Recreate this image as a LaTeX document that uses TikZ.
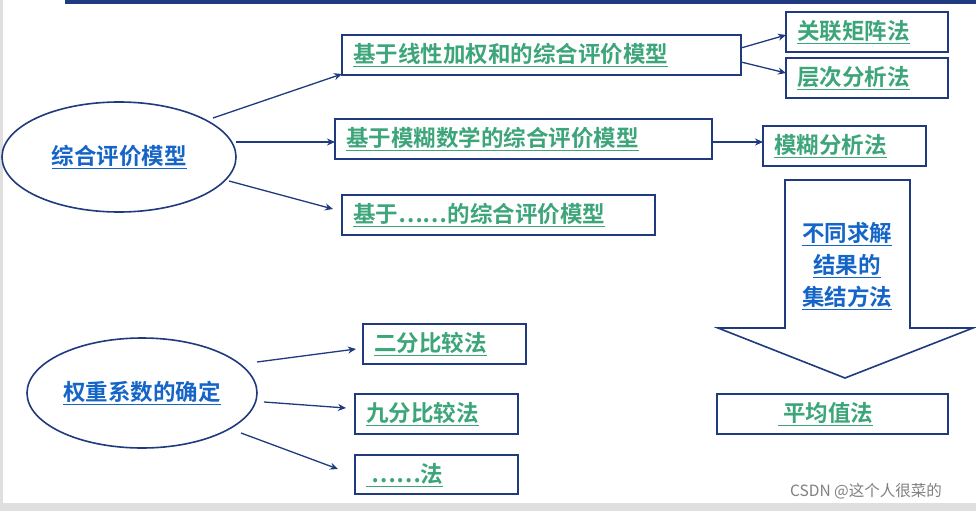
\documentclass[tikz,border=0pt]{standalone}
\usepackage{fontspec}
\newfontfamily\cjk{Noto Sans CJK SC}[BoldFont={Noto Sans CJK SC Bold}]
\usetikzlibrary{arrows.meta}
\definecolor{dblue}{HTML}{1F3A7F}
\definecolor{gtxt}{HTML}{3DA57A}
\definecolor{btxt}{HTML}{1565C8}
\begin{document}
\begin{tikzpicture}[x=1pt,y=-1pt,
 bx/.style={draw=dblue,line width=1.6pt,fill=white},
 gt/.style={text=gtxt,font=\cjk\bfseries\fontsize{22.5}{26}\selectfont,inner sep=0pt},
 bt/.style={text=btxt,font=\cjk\bfseries\fontsize{22.5}{26}\selectfont,inner sep=0pt},
 ar/.style={draw=dblue,line width=1.3pt,-{Stealth[length=8pt,width=7pt]}}]
\useasboundingbox (0,0) rectangle (976,511);
\fill[white] (0,0) rectangle (976,511);
\fill[gray!25] (0,0) rectangle (3,511);
\fill[gray!25] (0,503) rectangle (976,511);
\fill[dblue] (65,0) rectangle (976,4);
% ellipses
\draw[dblue,line width=1.6pt] (119,157) ellipse [x radius=117,y radius=55];
\node[bt] (e1) at (119,157) {\underline{综合评价模型}};
\draw[dblue,line width=1.6pt] (142,393) ellipse [x radius=115,y radius=55];
\node[bt] (e2) at (142,393) {\underline{权重系数的确定}};
% boxes
\draw[bx] (342,35) rectangle (741,75); \node[gt,anchor=west] (a) at (353,55) {\underline{基于线性加权和的综合评价模型}};
\draw[bx] (335,119) rectangle (712,159); \node[gt,anchor=west] (b) at (346,139) {\underline{基于模糊数学的综合评价模型}};
\draw[bx] (342,195) rectangle (655,235); \node[gt,anchor=west] (c) at (353,215) {\underline{基于……的综合评价模型}};
\draw[bx] (786,12) rectangle (948,52); \node[gt,anchor=west] (d) at (797,32) {\underline{关联矩阵法}};
\draw[bx] (786,58) rectangle (948,98); \node[gt,anchor=west] (e) at (797,78) {\underline{层次分析法}};
\draw[bx] (763,126) rectangle (926,166); \node[gt,anchor=west] (f) at (774,146) {\underline{模糊分析法}};
\draw[bx] (717,394) rectangle (948,434); \node[gt,anchor=west] (g) at (778,414) {\underline{\ 平均值法}};
\draw[bx] (363,324) rectangle (526,364); \node[gt,anchor=west] (h) at (374,344) {\underline{二分比较法}};
\draw[bx] (355,394) rectangle (518,434); \node[gt,anchor=west] (i) at (366,414) {\underline{九分比较法}};
\draw[bx] (355,455) rectangle (518,494); \node[gt,anchor=west] (j) at (366,475) {\underline{\ ……法}};
% big arrow
\draw[dblue,line width=1.6pt,fill=white] (785,180) -- (910,180) -- (910,328) -- (973,328) -- (845,378) -- (718,328) -- (785,328) -- cycle;
\node[bt,align=center,font=\cjk\bfseries\fontsize{22.5}{32}\selectfont] (k) at (847,266) {\underline{不同求解}\\\underline{结果的}\\\underline{集结方法}};
% connectors
\coordinate (p1) at (213,118); \coordinate (q1) at (342,74);
\coordinate (p2) at (236,142); \coordinate (q2) at (335,142);
\coordinate (p3) at (229,181); \coordinate (q3) at (333,209);
\coordinate (p4) at (741,48); \coordinate (q4) at (786,35);
\coordinate (p5) at (741,62); \coordinate (q5) at (786,73);
\coordinate (p6) at (712,142); \coordinate (q6) at (763,142);
\coordinate (p7) at (257,362); \coordinate (q7) at (356,349);
\coordinate (p8) at (264,402); \coordinate (q8) at (346,408);
\coordinate (p9) at (241,433); \coordinate (q9) at (338,469);
\foreach \n in {1,...,9} {\draw[ar] (p\n) -- (q\n);}
\node[text=gray,font=\cjk\fontsize{15.5}{18}\selectfont] (w) at (866,491) {CSDN @这个人很菜的};
\end{tikzpicture}
\end{document}
